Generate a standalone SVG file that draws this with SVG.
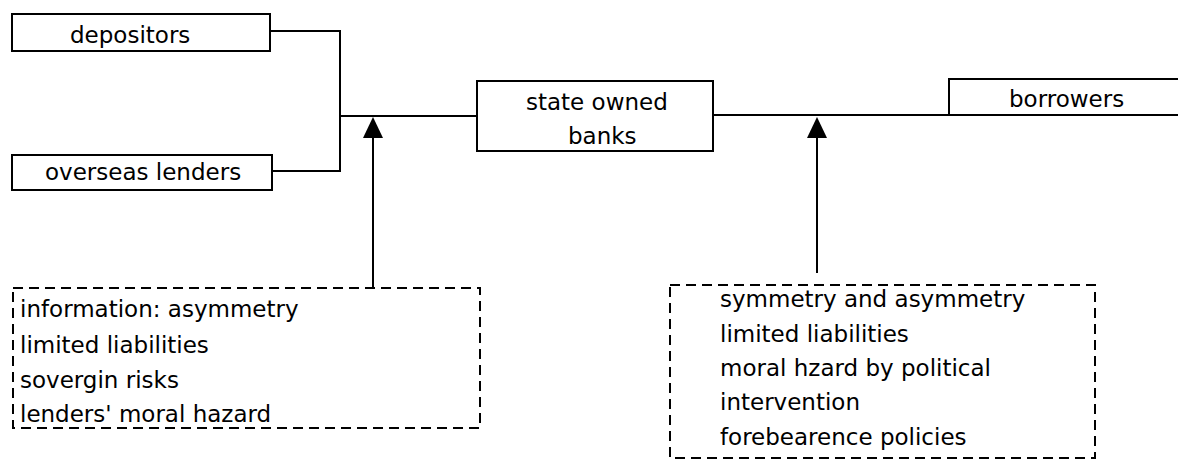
<svg xmlns="http://www.w3.org/2000/svg" width="1178" height="460" viewBox="0 0 1178 460">
<style>
.box{fill:#fff;stroke:#000;stroke-width:2}
.dash{fill:none;stroke:#000;stroke-width:2;stroke-dasharray:10 6}
.ln{fill:none;stroke:#000;stroke-width:2}
text{font-family:"DejaVu Sans",Verdana,sans-serif;font-size:23px;fill:#000}
</style>
<defs>
<marker id="arr" viewBox="0 0 20 21" refX="10" refY="0" markerWidth="20" markerHeight="21" markerUnits="userSpaceOnUse" orient="auto-start-reverse">
<path d="M0,21 L10,0 L20,21 Z" fill="#000"/>
</marker>
</defs>
<rect width="1178" height="460" fill="#fff"/>
<g id="connectors">
<path class="ln" d="M270,31 H340 V171 H272"/>
<path class="ln" d="M340,116 H477"/>
<path class="ln" d="M713,115 H1178"/>
<path class="ln" d="M373,288 V138"/>
<path d="M363,138 L373,117 L383,138 Z" fill="#000"/>
<path class="ln" d="M817,273 V138"/>
<path d="M807,138 L817,117 L827,138 Z" fill="#000"/>
</g>
<g id="depositors">
<rect class="box" x="12" y="14" width="258" height="37"/>
<text x="70" y="43">depositors</text>
</g>
<g id="overseas">
<rect class="box" x="12" y="155" width="260" height="35"/>
<text x="45" y="180">overseas lenders</text>
</g>
<g id="banks">
<rect class="box" x="477" y="81" width="236" height="70"/>
<text x="526" y="110">state owned</text>
<text x="568" y="144">banks</text>
</g>
<g id="borrowers">
<rect class="box" x="949" y="79" width="240" height="36"/>
<text x="1009" y="107">borrowers</text>
</g>
<g id="left-factors">
<rect class="dash" x="13" y="288" width="467" height="140"/>
<text x="20" y="317">information: asymmetry</text>
<text x="20" y="353">limited liabilities</text>
<text x="20" y="388">sovergin risks</text>
<text x="20" y="422">lenders' moral hazard</text>
</g>
<g id="right-factors">
<rect class="dash" x="670" y="285" width="425" height="173"/>
<text x="720" y="307">symmetry and asymmetry</text>
<text x="720" y="342">limited liabilities</text>
<text x="720" y="376">moral hzard by political</text>
<text x="720" y="410">intervention</text>
<text x="720" y="445">forebearence policies</text>
</g>
</svg>
